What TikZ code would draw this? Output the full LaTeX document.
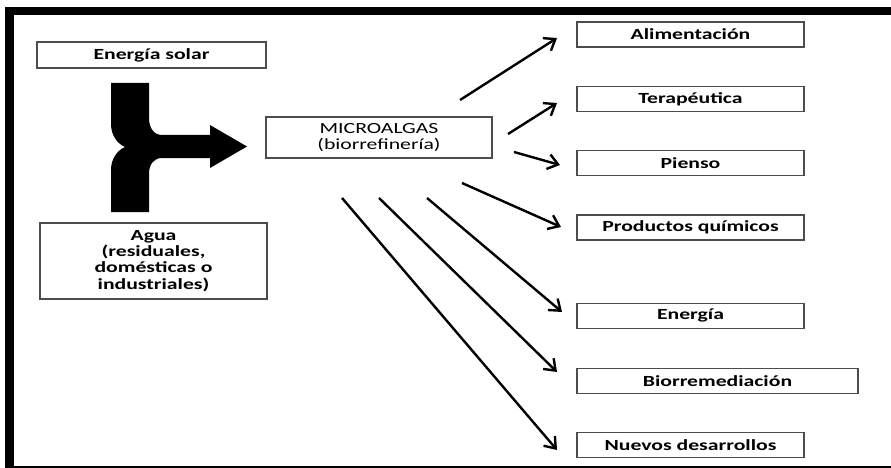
\documentclass[tikz,border=0pt]{standalone}
\usepackage{fontspec}
\setmainfont[FakeStretch=1.4]{Carlito}
\usetikzlibrary{arrows.meta, positioning, calc}

\begin{document}
\begin{tikzpicture}[
    x=1pt, y=-1pt,
    box/.style={rectangle, draw=black!70, line width=1.3pt, inner sep=0pt, align=center, minimum width=227pt, minimum height=25pt, font=\fontsize{15.5}{16.2}\selectfont\bfseries},
    arrow/.style={-{Straight Barb[length=10pt, width=15pt]}, line width=2.4pt},
    flow/.style={fill=black}
]
    \useasboundingbox (0,0) rectangle (891,468);

    % Frame
    \fill (5,7) rectangle (891,15);
    \fill (5,7) rectangle (14,468);
    \draw[line width=2pt] (5,466.5) -- (891,466.5);

    % Inputs
    \node[box, minimum width=229pt, minimum height=26pt] (solar) at (151.5,55) {Energía solar};
    \node[box, minimum height=76pt] (agua) at (153.5,261) {Agua\\(residuales,\\domésticas o\\industriales)};

    % Merging arrow
    \fill[flow] (111,83) -- (149,83) -- (149,118)
        .. controls (149,128) and (154,135) .. (162,135) -- (210,135) -- (210,125)
        -- (247,146.5) -- (210,168) -- (210,158) -- (162,158)
        .. controls (154,158) and (149,164) .. (149,174) -- (149,212) -- (111,212) -- (111,170)
        .. controls (111,158) and (118,150) .. (125,147)
        .. controls (118,144) and (111,136) .. (111,124) -- cycle;

    % Biorefinery
    \node[box, minimum width=226pt, minimum height=41pt, font=\fontsize{15.5}{16.2}\selectfont] (micro) at (379,137.5) {MICROALGAS\\(biorrefinería)};

    % Products
    \node[box] (alim) at (690.5,34.5) {Alimentación};
    \node[box, below=38pt of alim] (tera) {Terapéutica};
    \node[box, below=38pt of tera] (pienso) {Pienso};
    \node[box, below=38pt of pienso] (quim) {Productos químicos};
    \node[box, below=62pt of quim] (energia) {Energía};
    \node[box, minimum width=281pt, below=39pt of energia.south west, anchor=north west] (biorrem) {Biorremediación};
    \node[box, below=38pt of biorrem.south west, anchor=north west] (nuevos) {Nuevos desarrollos};

    % Arrow ends
    \coordinate (s1) at (460,100); \coordinate (e1) at (557,38);
    \coordinate (s2) at (508,134); \coordinate (e2) at (557,103);
    \coordinate (s3) at (514,152); \coordinate (e3) at (560,165);
    \coordinate (s4) at (462,183); \coordinate (e4) at (561,227);
    \coordinate (s5) at (427,198); \coordinate (e5) at (562,312);
    \coordinate (s6) at (379,198); \coordinate (e6) at (557,372);
    \coordinate (s7) at (342,198); \coordinate (e7) at (557,450);

    % Arrows
    \foreach \i in {1,...,7}
        \draw[arrow] (s\i) -- (e\i);

\end{tikzpicture}
\end{document}
